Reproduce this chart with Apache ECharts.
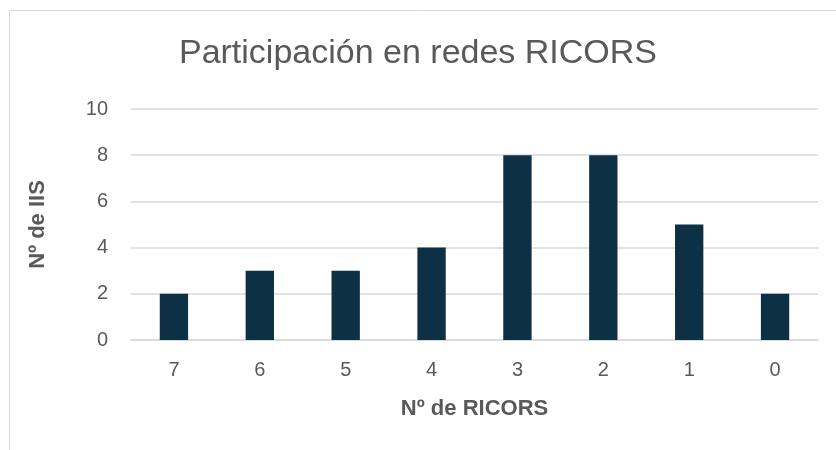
<!DOCTYPE html>
<html>
<head>
<meta charset="utf-8">
<script src="https://cdn.jsdelivr.net/npm/echarts@6/dist/echarts.min.js"></script>
<style>
  html, body { margin: 0; padding: 0; background: #fff; }
  #chart { width: 836px; height: 450px; }
</style>
</head>
<body>
<div id="chart"></div>
<script>
const categories = ["7", "6", "5", "4", "3", "2", "1", "0"];
const values = [2, 3, 3, 4, 8, 8, 5, 2];
const yTicks = { min: 0, max: 10, interval: 2 };

document.addEventListener("DOMContentLoaded", function () {
  const myChart = echarts.init(document.getElementById("chart"));
  const option = {
    animation: false,
    graphic: [
      {
        type: "rect",
        shape: { x: 9.5, y: 10.5, width: 900, height: 500 },
        style: { fill: "none", stroke: "#d9d9d9", lineWidth: 1 },
        silent: true,
      },
    ],
    title: {
      text: "Participación en redes RICORS",
      left: "center",
      top: 32,
      textStyle: {
        fontFamily: "Liberation Sans",
        fontSize: 34,
        fontWeight: "normal",
        color: "#595959",
      },
    },
    grid: {
      left: 131,
      right: 18,
      top: 109,
      bottom: 110,
    },
    xAxis: {
      type: "category",
      data: categories,
      name: "Nº de RICORS",
      nameLocation: "middle",
      nameGap: 58,
      nameTextStyle: {
        fontFamily: "Liberation Sans",
        fontSize: 22,
        fontWeight: "bold",
        color: "#595959",
      },
      axisLine: { lineStyle: { color: "#d9d9d9", width: 1.5 } },
      axisTick: { show: false },
      axisLabel: {
        fontFamily: "Liberation Sans",
        fontSize: 20,
        color: "#595959",
        margin: 20,
      },
    },
    yAxis: {
      type: "value",
      min: yTicks.min,
      max: yTicks.max,
      interval: yTicks.interval,
      name: "Nº de IIS",
      nameLocation: "middle",
      nameGap: 82,
      nameRotate: 90,
      nameTextStyle: {
        fontFamily: "Liberation Sans",
        fontSize: 22,
        fontWeight: "bold",
        color: "#595959",
      },
      axisLine: { show: false },
      axisTick: { show: false },
      axisLabel: {
        fontFamily: "Liberation Sans",
        fontSize: 20,
        color: "#595959",
        margin: 23,
      },
      splitLine: { lineStyle: { color: "#d9d9d9", width: 1.5 } },
    },
    series: [
      {
        type: "bar",
        data: values,
        barWidth: "33%",
        itemStyle: { color: "#0e3044" },
      },
    ],
  };
  myChart.setOption(option);
  window.addEventListener("resize", function () {
    myChart.resize();
  });
});
</script>
</body>
</html>
